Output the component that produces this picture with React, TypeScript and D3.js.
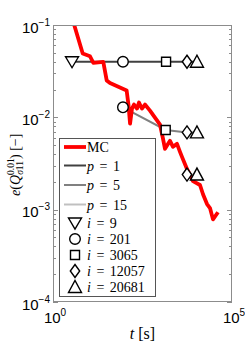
import React, { useRef, useEffect } from "react";
import * as d3 from "d3";

// Monte Carlo error curve (t in s, error)
const mcTime = [3.2, 6.76, 10.8, 13.4, 25.4, 31.6, 39.1, 114, 129, 142, 161, 183, 222, 252, 306, 371, 512, 706, 975, 1183, 1344, 1854, 2249, 2911, 3527, 4010, 5530, 8140, 12770, 15490, 20050, 24290, 29450, 40620];
const mcError = [0.13, 0.0491, 0.0459, 0.0388, 0.0398, 0.0251, 0.0235, 0.0195, 0.0134, 0.00853, 0.01245, 0.01375, 0.01245, 0.01445, 0.01245, 0.01375, 0.01183, 0.00993, 0.00832, 0.00586, 0.00456, 0.00557, 0.00479, 0.00516, 0.00423, 0.00373, 0.00276, 0.00204, 0.00185, 0.00147, 0.00115, 0.00104, 0.000785, 0.000937];

// PCE results, one entry per order p
const orders = ["1", "5", "15"];
const orderColors = ["#404040", "#808080", "#c0c0c0"];
const orderIdx = [[0, 1, 2, 3, 4], [1, 2, 3, 4], [3, 4]];
const orderTime = [[3.4, 90, 1440, 5530, 10500], [90, 1406, 5530, 10500], [5530, 10500]];
const orderError = [[0.04, 0.04, 0.04, 0.04, 0.04], [0.01285, 0.0073, 0.00687, 0.00687], [0.0024, 0.0024]];

// experimental design sizes -> marker
const designSizes = ["9", "201", "3065", "12057", "20681"];
const markerKinds = ["tridown", "circle", "square", "diamond", "triup"];

const yTicks = [1e-1, 1e-2, 1e-3, 1e-4];
const yTickExp = ["\u22121", "\u22122", "\u22123", "\u22124"];
const xTicks = [1, 1e5];
const xTickExp = ["0", "5"];

const markerPath = (kind: string) => {
  switch (kind) {
    case "tridown": return "M-6.5,-5L6.5,-5L0,6Z";
    case "triup": return "M-6.5,5.5L6.5,5.5L0,-6.5Z";
    case "square": return "M-4.5,-4.5H4.5V4.5H-4.5Z";
    case "diamond": return "M0,-6.5L4.7,0L0,6.5L-4.7,0Z";
    default: return d3.symbol(d3.symbolCircle, Math.PI * 5.3 * 5.3)() as string;
  }
};

const App = () => {
  const svgRef = useRef<SVGSVGElement>(null);

  useEffect(() => {
    const svg = d3.select(svgRef.current);
    svg.selectAll("*").remove();
    const width = 245;
    const height = 347;
    const left = 53, right = 232, top = 25, bottom = 302;
    svg.attr("width", width).attr("height", height);

    const x = d3.scaleLog().domain([1, 1e5]).range([left, right]);
    const y = d3.scaleLog().domain([1e-4, 1e-1]).range([bottom, top]);

    svg.append("defs").append("clipPath").attr("id", "plotClip")
      .append("rect").attr("x", left).attr("y", top)
      .attr("width", right - left).attr("height", bottom - top);

    svg.append("rect").attr("x", left).attr("y", top)
      .attr("width", right - left).attr("height", bottom - top)
      .attr("fill", "#fff");

    // y ticks (major and minor, left and right, inward)
    const tickG = svg.append("g").attr("stroke", "#8c8c8c").attr("stroke-width", 1);
    for (let e = -4; e < -1; e++) {
      for (let m = 2; m <= 9; m++) {
        const yy = Math.round(y(m * Math.pow(10, e))) + 0.5;
        tickG.append("line").attr("x1", left).attr("x2", left + 3).attr("y1", yy).attr("y2", yy);
        tickG.append("line").attr("x1", right).attr("x2", right - 3).attr("y1", yy).attr("y2", yy);
      }
    }
    yTicks.forEach((t) => {
      const yy = Math.round(y(t)) + 0.5;
      tickG.append("line").attr("x1", left).attr("x2", left + 5).attr("y1", yy).attr("y2", yy);
      tickG.append("line").attr("x1", right).attr("x2", right - 5).attr("y1", yy).attr("y2", yy);
    });

    const line = d3.line<[number, number]>().x((d) => x(d[0])).y((d) => y(d[1]));

    // PCE lines
    orders.forEach((p, k) => {
      const pts = orderTime[k].map((t, j) => [t, orderError[k][j]] as [number, number]);
      svg.append("path").attr("d", line(pts)).attr("fill", "none")
        .attr("stroke", orderColors[k]).attr("stroke-width", 2);
    });

    // MC curve
    svg.append("path")
      .attr("d", line(mcTime.map((t, j) => [t, mcError[j]] as [number, number])))
      .attr("clip-path", "url(#plotClip)")
      .attr("fill", "none").attr("stroke", "#ff0000").attr("stroke-width", 3.8)
      .attr("stroke-linejoin", "round");

    // markers
    orders.forEach((p, k) => {
      orderTime[k].forEach((t, j) => {
        svg.append("path").attr("d", markerPath(markerKinds[orderIdx[k][j]]))
          .attr("transform", `translate(${x(t)},${y(orderError[k][j])})`)
          .attr("fill", "#fff").attr("stroke", "#000").attr("stroke-width", 1.4);
      });
    });

    // box
    svg.append("rect").attr("x", left + 0.5).attr("y", top + 0.5)
      .attr("width", right - left - 1).attr("height", bottom - top - 1)
      .attr("fill", "none").attr("stroke", "#8c8c8c");

    // tick labels
    const sans = "Liberation Sans, Arial, sans-serif";
    yTicks.forEach((t, i) => {
      const tx = svg.append("text").attr("x", 50).attr("y", y(t) + 7.5)
        .attr("text-anchor", "end").attr("font-family", sans).attr("font-size", 15).attr("fill", "#000");
      tx.append("tspan").text("10");
      tx.append("tspan").attr("font-size", 10).attr("dy", -7).text(yTickExp[i]);
    });
    xTicks.forEach((t, i) => {
      const tx = svg.append("text").attr("x", x(t) + 2).attr("y", 323)
        .attr("text-anchor", "middle").attr("font-family", sans).attr("font-size", 15).attr("fill", "#000");
      tx.append("tspan").text("10");
      tx.append("tspan").attr("font-size", 10).attr("dy", -7).text(xTickExp[i]);
    });

    const serif = "Liberation Serif, Times New Roman, serif";
    // x label
    const xl = svg.append("text").attr("x", (left + right) / 2).attr("y", 339)
      .attr("text-anchor", "middle").attr("font-family", serif).attr("font-size", 16);
    xl.append("tspan").attr("font-style", "italic").text("t");
    xl.append("tspan").text(" [s]");

    // y label
    const yl = svg.append("text").attr("transform", "translate(20,196) rotate(-90)")
      .attr("font-family", serif).attr("font-size", 14).attr("fill", "#000");
    yl.append("tspan").attr("font-style", "italic").text("e");
    yl.append("tspan").text("(");
    yl.append("tspan").attr("font-style", "italic").text("Q");
    yl.append("tspan").attr("font-size", 9.5).attr("dy", -6).text("0.01");
    yl.append("tspan").attr("font-size", 9.5).attr("dx", -16.5).attr("dy", 9).attr("font-style", "italic").text("\u03c3");
    yl.append("tspan").attr("font-size", 9.5).text("11");
    yl.append("tspan").attr("dy", -3).attr("dx", 2).text(") [\u2212]");

    // legend
    const lg = svg.append("g");
    lg.append("rect").attr("x", 59.5).attr("y", 138.5).attr("width", 96).attr("height", 158)
      .attr("fill", "#fff").attr("stroke", "#555").attr("stroke-width", 1);
    const entry = (yy: number, label: string, italic: string | null) => {
      const tx = lg.append("text").attr("x", 87).attr("y", yy + 5)
        .attr("font-family", serif).attr("font-size", 14).attr("fill", "#000");
      if (italic) {
        tx.append("tspan").attr("font-style", "italic").text(italic);
        tx.append("tspan").attr("dx", 2).text(" =");
        tx.append("tspan").attr("dx", 2).text(` ${label}`);
      } else tx.text(label);
    };
    const lineRows = [147, 165.5, 185, 204.5];
    lg.append("line").attr("x1", 64).attr("x2", 86).attr("y1", lineRows[0]).attr("y2", lineRows[0])
      .attr("stroke", "#ff0000").attr("stroke-width", 3.8);
    entry(lineRows[0], "MC", null);
    orders.forEach((p, k) => {
      const yy = lineRows[k + 1];
      lg.append("line").attr("x1", 64).attr("x2", 86).attr("y1", yy).attr("y2", yy)
        .attr("stroke", orderColors[k]).attr("stroke-width", 2);
      entry(yy, p, "p");
    });
    const markerRows = [223, 239, 255, 271, 287];
    designSizes.forEach((s, k) => {
      lg.append("path").attr("d", markerPath(markerKinds[k]))
        .attr("transform", `translate(75,${markerRows[k]})`)
        .attr("fill", "#fff").attr("stroke", "#000").attr("stroke-width", 1.4);
      entry(markerRows[k], s, "i");
    });
  }, []);

  return (
    <div style={{ position: "absolute", left: 0, top: 0 }}>
      <svg ref={svgRef} style={{ display: "block" }}></svg>
    </div>
  );
};

export default App;
